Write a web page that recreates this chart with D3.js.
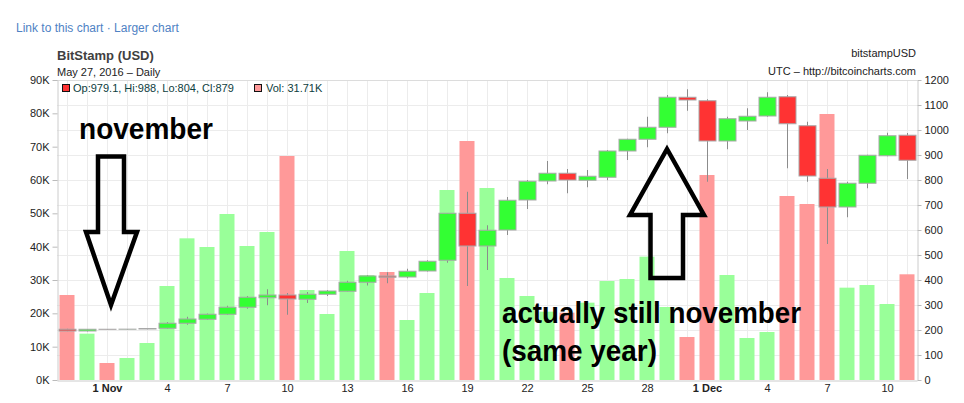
<!DOCTYPE html>
<html>
<head>
<meta charset="utf-8">
<script src="https://cdn.jsdelivr.net/npm/d3@7"></script>
<style>
  html, body { margin: 0; padding: 0; background: #fff; }
  svg { display: block; }
  text { font-family: "Liberation Sans", Arial, sans-serif; }
</style>
</head>
<body>
<svg id="chart" width="964" height="403"></svg>
<script>
// ---- data ----
const dates = [
  "2016-10-30","2016-10-31","2016-11-01","2016-11-02","2016-11-03","2016-11-04","2016-11-05",
  "2016-11-06","2016-11-07","2016-11-08","2016-11-09","2016-11-10","2016-11-11","2016-11-12",
  "2016-11-13","2016-11-14","2016-11-15","2016-11-16","2016-11-17","2016-11-18","2016-11-19",
  "2016-11-20","2016-11-21","2016-11-22","2016-11-23","2016-11-24","2016-11-25","2016-11-26",
  "2016-11-27","2016-11-28","2016-11-29","2016-11-30","2016-12-01","2016-12-02","2016-12-03",
  "2016-12-04","2016-12-05","2016-12-06","2016-12-07","2016-12-08","2016-12-09","2016-12-10",
  "2016-12-11"
];
const opens  = [203,196,203,203,204,207,227,243,263,291,329,340,323,343,355,391,416,412,436,479,667,536,600,720,796,827,799,811,916,963,1011,1131,1117,956,1036,1056,1133,1017,807,692,787,897,979.1];
const highs  = [205,204,204,204,206,232,253,266,297,336,363,348,352,360,397,420,431,445,479,667,753,619,732,800,876,844,840,920,965,1053,1140,1163,1123,1053,1087,1151,1140,1033,844,793,901,989,988];
const lows   = [195,194,202,202,203,205,221,240,260,285,299,261,308,336,354,378,387,407,434,469,376,440,580,684,783,747,771,799,880,931,987,1077,793,923,1000,1053,847,793,544,651,767,895,804];
const closes = [196,203,202.6,203.4,206,227,244,263,291,331,340,324,343,356,391,416,411,435,475,667,536,599,719,795,827,800,815,916,963,1011,1131,1120,956,1045,1055,1131,1025,816,692,787,899,977,879];
const volumes = [25.5,13.9,5.1,6.6,11.1,28.2,42.5,39.9,49.8,40.2,44.4,67.2,27,19.8,38.7,31.5,32.4,18,26.1,57,71.7,57.6,30.6,25.2,20.5,20.2,23.2,29.7,30.3,37,21.9,12.9,61.5,31.5,12.6,14.4,55.2,52.8,79.8,27.7,28.5,22.8,31.71];
const tickDates = ["2016-11-01","2016-11-04","2016-11-07","2016-11-10","2016-11-13","2016-11-16","2016-11-19","2016-11-22","2016-11-25","2016-11-28","2016-12-01","2016-12-04","2016-12-07","2016-12-10"];
const volTicks = [0,10,20,30,40,50,60,70,80,90];
const priceTicks = [0,100,200,300,400,500,600,700,800,900,1000,1100,1200];

// ---- layout ----
const L = 57, R = 917, T = 80, B = 380;
const svg = d3.select("#chart");
const parse = d3.utcParse("%Y-%m-%d");
const rows = dates.map((d, i) => ({
  date: parse(d), o: opens[i], h: highs[i], l: lows[i], c: closes[i], v: volumes[i]
}));
const first = rows[0].date, last = rows[rows.length - 1].date;
const x = d3.scaleUtc()
  .domain([d3.utcHour.offset(first, -12), d3.utcHour.offset(last, 12)])
  .range([L, R]);
const yP = d3.scaleLinear().domain([0, 1200]).range([B, T]);
const yV = d3.scaleLinear().domain([0, 90]).range([B, T]);

// header texts
svg.append("text").attr("x", 16).attr("y", 32).attr("font-size", 12).attr("fill", "#4f82c4")
  .text("Link to this chart \u00b7 Larger chart");
svg.append("text").attr("x", 57).attr("y", 60).attr("font-size", 13).attr("font-weight", "bold").attr("fill", "#404040")
  .text("BitStamp (USD)");
svg.append("text").attr("x", 57).attr("y", 76).attr("font-size", 11).attr("fill", "#222")
  .text("May 27, 2016 \u2013 Daily");
svg.append("text").attr("x", 916).attr("y", 57).attr("font-size", 11).attr("fill", "#222").attr("text-anchor", "end")
  .text("bitstampUSD");
svg.append("text").attr("x", 916).attr("y", 75).attr("font-size", 11).attr("fill", "#222").attr("text-anchor", "end")
  .text("UTC \u2013 http://bitcoincharts.com");

// grid
const grid = svg.append("g");
grid.selectAll("line.v").data(rows).join("line")
  .attr("x1", d => Math.round(x(d.date)) + 0.5).attr("x2", d => Math.round(x(d.date)) + 0.5)
  .attr("y1", T).attr("y2", B).attr("stroke", "#ececec");
grid.selectAll("line.h").data(priceTicks.slice(1, -1)).join("line")
  .attr("x1", L).attr("x2", R)
  .attr("y1", d => Math.round(yP(d)) + 0.5).attr("y2", d => Math.round(yP(d)) + 0.5).attr("stroke", "#ececec");
svg.append("line").attr("x1", L).attr("x2", R).attr("y1", T + 0.5).attr("y2", T + 0.5).attr("stroke", "#dcdcdc");

// volume bars
svg.append("g").selectAll("rect").data(rows).join("rect")
  .attr("x", d => x(d.date) - 7.5)
  .attr("width", 15)
  .attr("y", d => yV(d.v))
  .attr("height", d => yV(0) - yV(d.v))
  .attr("fill", d => d.c < d.o ? "#ff9999" : "#99ff99");

// candles
const cg = svg.append("g");
cg.selectAll("line").data(rows).join("line")
  .attr("x1", d => Math.round(x(d.date)) + 0.5).attr("x2", d => Math.round(x(d.date)) + 0.5)
  .attr("y1", d => yP(d.h)).attr("y2", d => yP(d.l))
  .attr("stroke", "#8c8c8c").attr("stroke-width", 1);
cg.selectAll("rect").data(rows).join("rect")
  .attr("x", d => Math.round(x(d.date)) - 8)
  .attr("width", 17)
  .attr("y", d => yP(Math.max(d.o, d.c)))
  .attr("height", d => Math.abs(yP(d.o) - yP(d.c)))
  .attr("fill", d => d.c < d.o ? "#ff3333" : "#33ff33")
  .attr("stroke", "#a8a8a8").attr("stroke-width", 1);

// axes
function styleAxis(g) {
  g.selectAll(".domain").attr("stroke", "#cccccc");
  g.selectAll(".tick line").attr("stroke", "#bbbbbb");
  g.selectAll("text").attr("fill", "#222").attr("font-size", 11)
    .attr("font-family", "'Liberation Sans', Arial, sans-serif");
}
const left = svg.append("g").attr("transform", `translate(${L + 0.5},0)`)
  .call(d3.axisLeft(yV).tickValues(volTicks).tickFormat(d => d + "K").tickSize(5).tickSizeOuter(0));
styleAxis(left);
const right = svg.append("g").attr("transform", `translate(${R + 0.5},0)`)
  .call(d3.axisRight(yP).tickValues(priceTicks).tickFormat(d3.format("d")).tickSize(4).tickSizeOuter(0));
styleAxis(right);
const bottom = svg.append("g").attr("transform", `translate(0,${B + 0.5})`)
  .call(d3.axisBottom(x).tickValues(tickDates.map(parse)).tickSize(0).tickPadding(4)
    .tickFormat(d => d.getUTCDate() === 1 ? d3.utcFormat("%-d %b")(d) : d3.utcFormat("%-d")(d)));
styleAxis(bottom);
bottom.selectAll(".tick text").attr("font-weight", d => d.getUTCDate() === 1 ? "bold" : "normal");

// legend
const lastRow = rows[rows.length - 1];
svg.append("rect").attr("x", 62.5).attr("y", 84.5).attr("width", 7).attr("height", 7)
  .attr("fill", "#ff3333").attr("stroke", "#111");
svg.append("text").attr("x", 73).attr("y", 92).attr("font-size", 11).attr("fill", "#0d4040")
  .text(`Op:${lastRow.o}, Hi:${lastRow.h}, Lo:${lastRow.l}, Cl:${lastRow.c}`);
svg.append("rect").attr("x", 254.5).attr("y", 84.5).attr("width", 7).attr("height", 7)
  .attr("fill", "#ff9999").attr("stroke", "#111");
svg.append("text").attr("x", 266).attr("y", 92).attr("font-size", 11).attr("fill", "#0d4040")
  .text(`Vol: ${lastRow.v}K`);

// hand-drawn annotations
const ann = svg.append("g");
const annFont = "Lato, 'Open Sans', sans-serif";
ann.append("text").attr("x", 79).attr("y", 139).attr("font-size", 29).attr("font-weight", "bold")
  .attr("font-family", annFont).attr("fill", "#000")
  .attr("textLength", 134).attr("lengthAdjust", "spacingAndGlyphs").text("november");
ann.append("text").attr("x", 502).attr("y", 323).attr("font-size", 29).attr("font-weight", "bold")
  .attr("font-family", annFont).attr("fill", "#000")
  .attr("textLength", 299).attr("lengthAdjust", "spacingAndGlyphs").text("actually still november");
ann.append("text").attr("x", 502).attr("y", 361).attr("font-size", 29).attr("font-weight", "bold")
  .attr("font-family", annFont).attr("fill", "#000")
  .attr("textLength", 155).attr("lengthAdjust", "spacingAndGlyphs").text("(same year)");
// down arrow
ann.append("path")
  .attr("d", "M98,156.5 L124,156.5 L124,232 L137,232 L111,305 L86,232 L98,232 Z")
  .attr("fill", "none").attr("stroke", "#000").attr("stroke-width", 4.5).attr("stroke-linejoin", "miter");
// up arrow
ann.append("path")
  .attr("d", "M667,149 L704,215 L683,215 L683,278 L650.5,278 L650.5,215 L630,215 Z")
  .attr("fill", "none").attr("stroke", "#000").attr("stroke-width", 4.5).attr("stroke-linejoin", "miter");
</script>
</body>
</html>
